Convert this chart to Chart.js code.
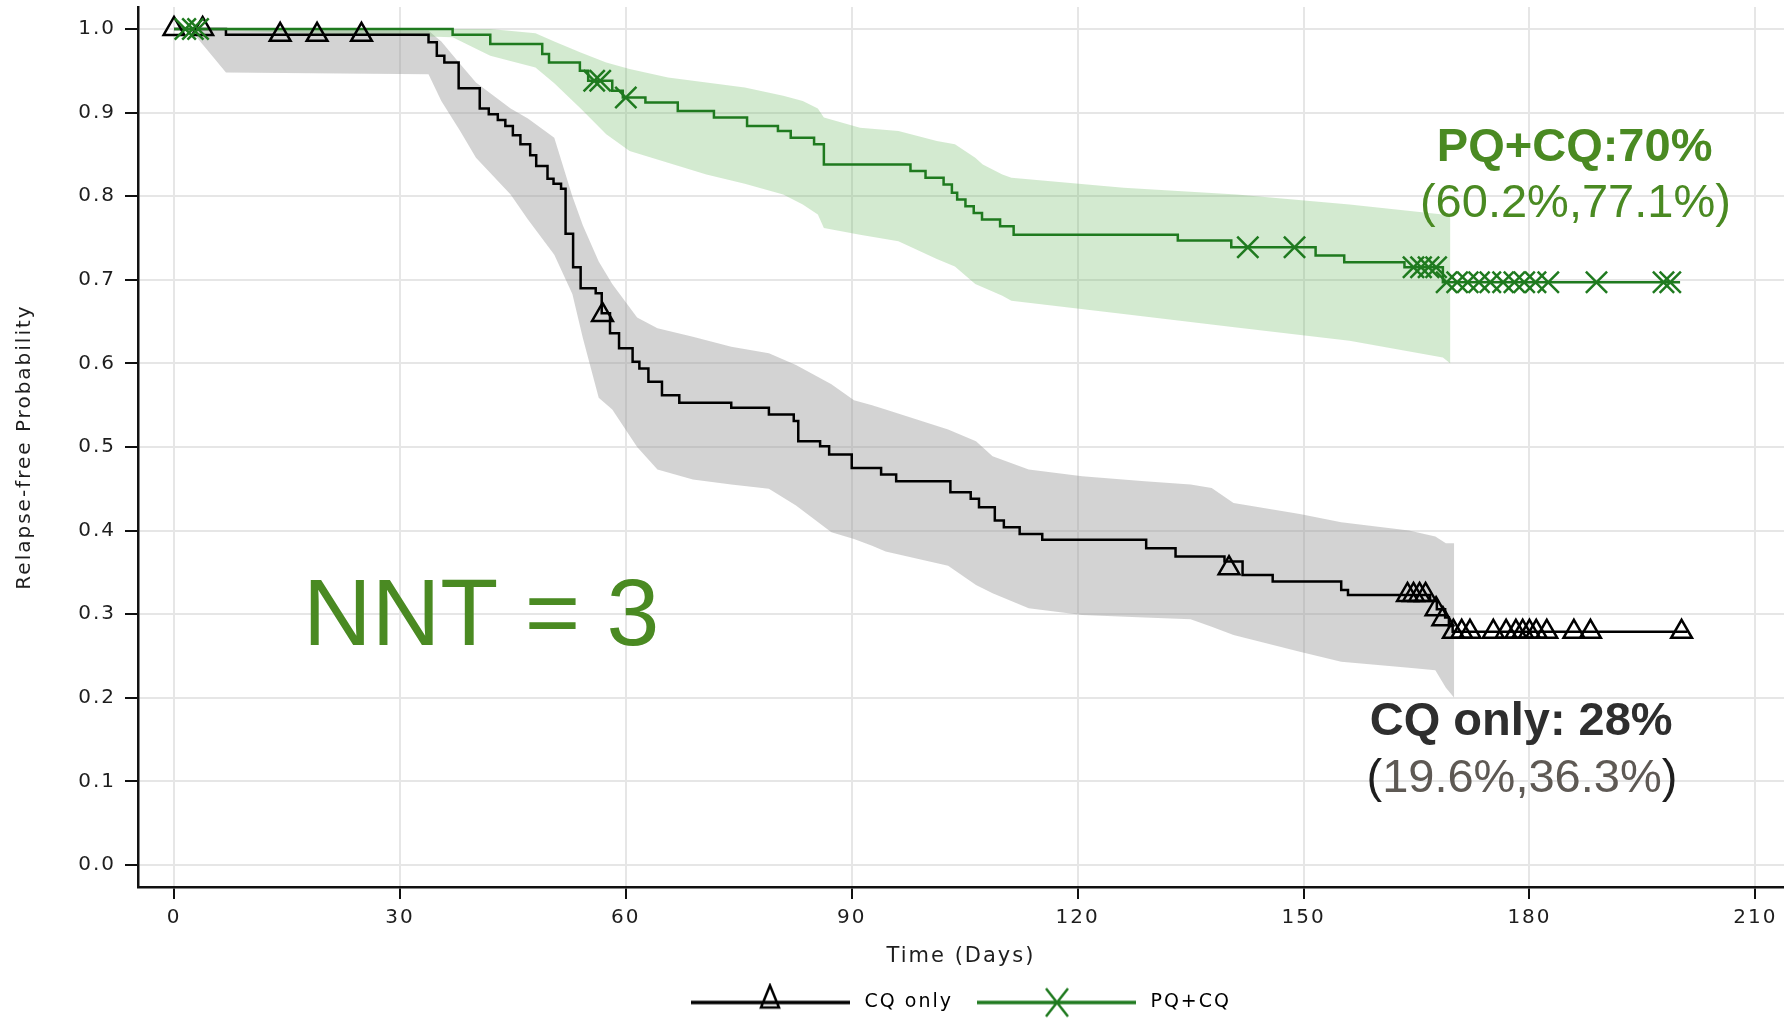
<!DOCTYPE html>
<html>
<head>
<meta charset="utf-8">
<title>Relapse-free probability: CQ only vs PQ+CQ</title>
<script src="https://cdn.jsdelivr.net/npm/chart.js@4.4.1/dist/chart.umd.min.js"></script>
<style>
  html, body { margin: 0; padding: 0; background: #fff; overflow: hidden; }
  #wrap { width: 1784px; height: 1022px; }
</style>
</head>
<body>
<div id="wrap"><canvas id="km" width="1784" height="1022"></canvas></div>
<script>
// ---- values ----
const xTicks = [0, 30, 60, 90, 120, 150, 180, 210];
const yTicks = [0, 0.1, 0.2, 0.3, 0.4, 0.5, 0.6, 0.7, 0.8, 0.9, 1.0];

// CQ only: KM steps (day, survival after the drop)
const cqTimes = [0, 6.9, 33.8, 34.9, 35.9, 37.8, 40.6, 41.8, 43.0, 44.0,
  45.0, 46.0, 47.3, 48.1, 49.6, 50.4, 51.4, 52.0, 53.0, 54.0,
  56.0, 56.8, 57.9, 59.1, 60.9, 61.8, 63.0, 64.8, 67.1, 74.0,
  79.0, 82.3, 82.9, 85.8, 87.0, 90.0, 93.9, 95.9, 103.1, 105.8,
  106.9, 109.0, 110.2, 112.3, 115.3, 129.1, 133.0, 139.5, 141.9, 145.9,
  155.0, 155.9, 166.8, 167.7, 168.8, 169.3, 169.8, 201.0];
const cqSurv = [1.0, 0.993, 0.984, 0.968, 0.960, 0.929, 0.905, 0.898, 0.891, 0.884,
  0.873, 0.862, 0.849, 0.836, 0.821, 0.815, 0.809, 0.755, 0.715, 0.690,
  0.684, 0.660, 0.636, 0.618, 0.602, 0.594, 0.578, 0.562, 0.553, 0.547,
  0.539, 0.531, 0.507, 0.501, 0.491, 0.475, 0.467, 0.459, 0.446, 0.438,
  0.428, 0.412, 0.404, 0.396, 0.389, 0.379, 0.369, 0.363, 0.347, 0.339,
  0.329, 0.323, 0.316, 0.306, 0.296, 0.286, 0.279, 0.279];

// CQ only: censored (triangles)
const cqCensorTimes = [0, 3.8, 14.1, 19.0, 24.9, 56.9, 140.1, 163.8, 164.6, 165.4,
  166.2, 167.6, 168.5, 169.9, 171.0, 172.1, 175.2, 176.9, 178.2, 179.1,
  180.0, 180.9, 182.3, 185.9, 188.1, 200.2];
const cqCensorSurv = [1.0, 1.0, 0.993, 0.993, 0.993, 0.658, 0.355, 0.323, 0.323, 0.323,
  0.323, 0.306, 0.294, 0.279, 0.279, 0.279, 0.279, 0.279, 0.279, 0.279,
  0.279, 0.279, 0.279, 0.279, 0.279, 0.279];

// CQ only: confidence band
const cqBandTimes = [0, 2.3, 6.9, 33.8, 35.5, 38.0, 40.1, 44.7, 47.0, 50.5,
  52.9, 54.3, 56.4, 58.2, 61.5, 64.2, 68.9, 74.0, 79.0, 82.6,
  87.3, 90.3, 92.7, 94.5, 102.8, 106.5, 108.7, 113.5, 120.6, 128.9,
  135.0, 137.8, 140.7, 149.5, 155.0, 164.0, 167.5, 168.9, 170.0];
const cqBandUpper = [1.0, 1.0, 1.0, 0.998, 0.985, 0.958, 0.936, 0.905, 0.893, 0.870,
  0.800, 0.765, 0.722, 0.695, 0.655, 0.642, 0.632, 0.620, 0.612, 0.598,
  0.575, 0.556, 0.550, 0.545, 0.521, 0.507, 0.489, 0.473, 0.465, 0.459,
  0.455, 0.451, 0.433, 0.420, 0.410, 0.400, 0.393, 0.385, 0.385];
const cqBandLower = [1.0, 0.998, 0.948, 0.946, 0.914, 0.878, 0.846, 0.802, 0.772, 0.730,
  0.683, 0.630, 0.559, 0.545, 0.500, 0.473, 0.461, 0.455, 0.450, 0.430,
  0.398, 0.390, 0.382, 0.375, 0.358, 0.335, 0.325, 0.307, 0.299, 0.296,
  0.294, 0.285, 0.275, 0.255, 0.243, 0.236, 0.233, 0.212, 0.200];

// PQ+CQ: KM steps
const pqTimes = [0, 37.0, 42.0, 48.9, 49.8, 53.9, 55.0, 58.2, 59.6, 62.6,
  66.9, 71.7, 76.1, 80.2, 81.9, 85.0, 86.3, 97.8, 99.8, 102.2,
  103.3, 104.0, 105.1, 106.2, 107.3, 109.7, 111.5, 133.3, 140.4, 151.6,
  155.4, 163.4, 168.5, 200.0];
const pqSurv = [1.0, 0.993, 0.982, 0.970, 0.960, 0.950, 0.938, 0.926, 0.918, 0.912,
  0.902, 0.894, 0.884, 0.878, 0.870, 0.862, 0.838, 0.830, 0.822, 0.814,
  0.804, 0.796, 0.788, 0.780, 0.772, 0.764, 0.754, 0.747, 0.739, 0.729,
  0.721, 0.715, 0.697, 0.697];

// PQ+CQ: censored (crosses)
const pqCensorTimes = [1.5, 2.5, 3.2, 55.8, 56.6, 60.0, 142.6, 148.8, 164.6, 165.6,
  166.6, 167.6, 169.0, 170.4, 171.8, 173.3, 174.8, 176.5, 178.0, 179.3,
  180.8, 182.5, 188.9, 197.8, 198.7];
const pqCensorSurv = [1.0, 1.0, 1.0, 0.938, 0.938, 0.918, 0.739, 0.739, 0.715, 0.715,
  0.715, 0.715, 0.697, 0.697, 0.697, 0.697, 0.697, 0.697, 0.697, 0.697,
  0.697, 0.697, 0.697, 0.697, 0.697];

// PQ+CQ: confidence band
const pqBandTimes = [0, 37.0, 42.0, 48.0, 50.5, 54.0, 57.4, 60.5, 65.6, 70.7,
  75.8, 80.9, 83.5, 85.5, 86.3, 91.1, 96.2, 101.3, 103.7, 106.4,
  107.4, 110.0, 111.2, 126.1, 141.1, 156.1, 168.5, 169.5];
const pqBandUpper = [1.0, 1.0, 1.0, 0.995, 0.985, 0.972, 0.960, 0.952, 0.942, 0.936,
  0.930, 0.920, 0.914, 0.905, 0.894, 0.882, 0.878, 0.866, 0.862, 0.846,
  0.838, 0.826, 0.822, 0.810, 0.802, 0.790, 0.778, 0.778];
const pqBandLower = [1.0, 0.990, 0.968, 0.954, 0.935, 0.905, 0.874, 0.854, 0.840, 0.826,
  0.815, 0.802, 0.790, 0.778, 0.762, 0.754, 0.746, 0.725, 0.716, 0.695,
  0.691, 0.681, 0.675, 0.659, 0.643, 0.627, 0.607, 0.600];

// ---- styling ----
const cqColor = '#000000';
const pqColor = '#1f7a1f';
const noteGreen = '#4a8a22';
const tickFont = { family: 'DejaVu Sans', size: 20 };

const pts = (xs, ys) => xs.map((x, i) => ({ x: x, y: ys[i] }));

// text annotations, anchored in data units
const notes = [
  { x: 40.8, y: 0.263, font: '95px "Liberation Sans"', parts: [['NNT = 3', noteGreen]] },
  { x: 186.0, y: 0.842, font: 'bold 47px "Liberation Sans"', parts: [['PQ+CQ:70%', noteGreen]] },
  { x: 186.1, y: 0.775, font: '47px "Liberation Sans"', parts: [['(60.2%,77.1%)', noteGreen]] },
  { x: 178.9, y: 0.156, font: 'bold 47px "Liberation Sans"', parts: [['CQ only: 28%', '#2e2e2e']] },
  { x: 179.0, y: 0.087, font: '47px "Liberation Sans"',
    parts: [['(', '#1e1e1e'], ['19.6%,36.3%', '#5e5954'], [')', '#1e1e1e']] }
];

// legend swatch: line with its marker in the middle
function legendIcon(color, marker) {
  const c = document.createElement('canvas');
  c.width = 164; c.height = 40;
  const g = c.getContext('2d');
  g.strokeStyle = color;
  g.lineWidth = 3.5;
  g.beginPath(); g.moveTo(0, 20); g.lineTo(159, 20); g.stroke();
  g.lineWidth = 2.5;
  g.beginPath();
  if (marker === 'triangle') {
    g.moveTo(79, 3); g.lineTo(70, 25); g.lineTo(88, 25); g.closePath();
  } else {
    g.moveTo(69, 6); g.lineTo(91, 34); g.moveTo(91, 6); g.lineTo(69, 34);
  }
  g.stroke();
  return c;
}
const legendCq = legendIcon(cqColor, 'triangle');
const legendPq = legendIcon(pqColor, 'cross');

// wide, spaced axis lettering + the text notes
const textPlugin = {
  id: 'textPlugin',
  beforeUpdate(chart) { chart.ctx.letterSpacing = '2px'; },
  beforeDraw(chart) { chart.ctx.letterSpacing = '2px'; },
  afterDatasetsDraw(chart) {
    const ctx = chart.ctx;
    const xs = chart.scales.x, ys = chart.scales.y;
    ctx.save();
    ctx.letterSpacing = '0px';
    ctx.textBaseline = 'alphabetic';
    ctx.textAlign = 'left';
    notes.forEach(n => {
      ctx.font = n.font;
      const total = n.parts.reduce((w, p) => w + ctx.measureText(p[0]).width, 0);
      let px = xs.getPixelForValue(n.x) - total / 2;
      const py = ys.getPixelForValue(n.y);
      n.parts.forEach(p => {
        ctx.fillStyle = p[1];
        ctx.fillText(p[0], px, py);
        px += ctx.measureText(p[0]).width;
      });
    });
    ctx.restore();
  }
};

new Chart(document.getElementById('km'), {
  type: 'line',
  data: {
    datasets: [
      { label: 'cq upper', data: pts(cqBandTimes, cqBandUpper), borderWidth: 0, pointRadius: 0, fill: false, order: 9 },
      { label: 'cq lower', data: pts(cqBandTimes, cqBandLower), borderWidth: 0, pointRadius: 0,
        fill: '-1', backgroundColor: 'rgba(150,150,150,0.42)', order: 9 },
      { label: 'pq upper', data: pts(pqBandTimes, pqBandUpper), borderWidth: 0, pointRadius: 0, fill: false, order: 8 },
      { label: 'pq lower', data: pts(pqBandTimes, pqBandLower), borderWidth: 0, pointRadius: 0,
        fill: '-1', backgroundColor: 'rgba(110,185,100,0.30)', order: 8 },
      { label: 'CQ only', data: pts(cqTimes, cqSurv), borderColor: cqColor, borderWidth: 2.5,
        stepped: 'before', pointRadius: 0, fill: false, order: 3 },
      { label: 'PQ+CQ', data: pts(pqTimes, pqSurv), borderColor: pqColor, borderWidth: 2.5,
        stepped: 'before', pointRadius: 0, fill: false, order: 2 },
      { type: 'scatter', label: 'cq censored', data: pts(cqCensorTimes, cqCensorSurv),
        pointStyle: 'triangle', pointRadius: 12, borderColor: cqColor, backgroundColor: 'rgba(0,0,0,0)',
        borderWidth: 2.5, clip: false, order: 1 },
      { type: 'scatter', label: 'pq censored', data: pts(pqCensorTimes, pqCensorSurv),
        pointStyle: 'crossRot', pointRadius: 15, borderColor: pqColor, backgroundColor: pqColor,
        borderWidth: 2.5, clip: false, order: 0 }
    ]
  },
  options: {
    responsive: false,
    animation: false,
    devicePixelRatio: 1,
    layout: { padding: { top: 7, left: 0, right: 0, bottom: 0 }, autoPadding: false },
    scales: {
      x: {
        type: 'linear',
        min: -4.78,
        max: 213.8,
        afterBuildTicks: s => { s.ticks = xTicks.map(v => ({ value: v })); },
        afterFit: s => { s.height = 82; s.paddingLeft = 0; s.paddingRight = 0; },
        grid: { color: '#e6e6e6', lineWidth: 2, tickColor: '#111', tickWidth: 2, tickLength: 12 },
        border: { color: '#111', width: 2.5 },
        ticks: { font: tickFont, color: '#1e1e1e', padding: 7, autoSkip: false, maxRotation: 0,
          callback: v => String(v) },
        title: { display: true, text: 'Time (Days)', font: { family: 'DejaVu Sans', size: 21 },
          color: '#1e1e1e', padding: { top: 0, bottom: 0 } }
      },
      y: {
        min: -0.0263,
        max: 1.0263,
        afterBuildTicks: s => { s.ticks = yTicks.map(v => ({ value: v })); },
        afterFit: s => { s.width = 138; s.paddingTop = 0; s.paddingBottom = 0; },
        grid: { color: '#e6e6e6', lineWidth: 2, tickColor: '#111', tickWidth: 2, tickLength: 13 },
        border: { color: '#111', width: 2.5 },
        ticks: { font: tickFont, color: '#1e1e1e', padding: 9, callback: v => v.toFixed(1) },
        title: { display: true, text: 'Relapse-free Probability', font: { family: 'DejaVu Sans', size: 20 },
          color: '#1e1e1e', padding: { top: 13, bottom: 0 } }
      }
    },
    plugins: {
      tooltip: { enabled: false },
      legend: {
        position: 'bottom',
        fullSize: false,
        labels: {
          usePointStyle: true,
          pointStyleWidth: 164,
          padding: 24,
          color: '#1e1e1e',
          font: { family: 'DejaVu Sans', size: 19 },
          generateLabels: () => [
            { text: 'CQ only', pointStyle: legendCq, fillStyle: cqColor, strokeStyle: cqColor, lineWidth: 0, hidden: false, datasetIndex: 4 },
            { text: 'PQ+CQ', pointStyle: legendPq, fillStyle: pqColor, strokeStyle: pqColor, lineWidth: 0, hidden: false, datasetIndex: 5 }
          ]
        }
      }
    }
  },
  plugins: [textPlugin]
});
</script>
</body>
</html>
